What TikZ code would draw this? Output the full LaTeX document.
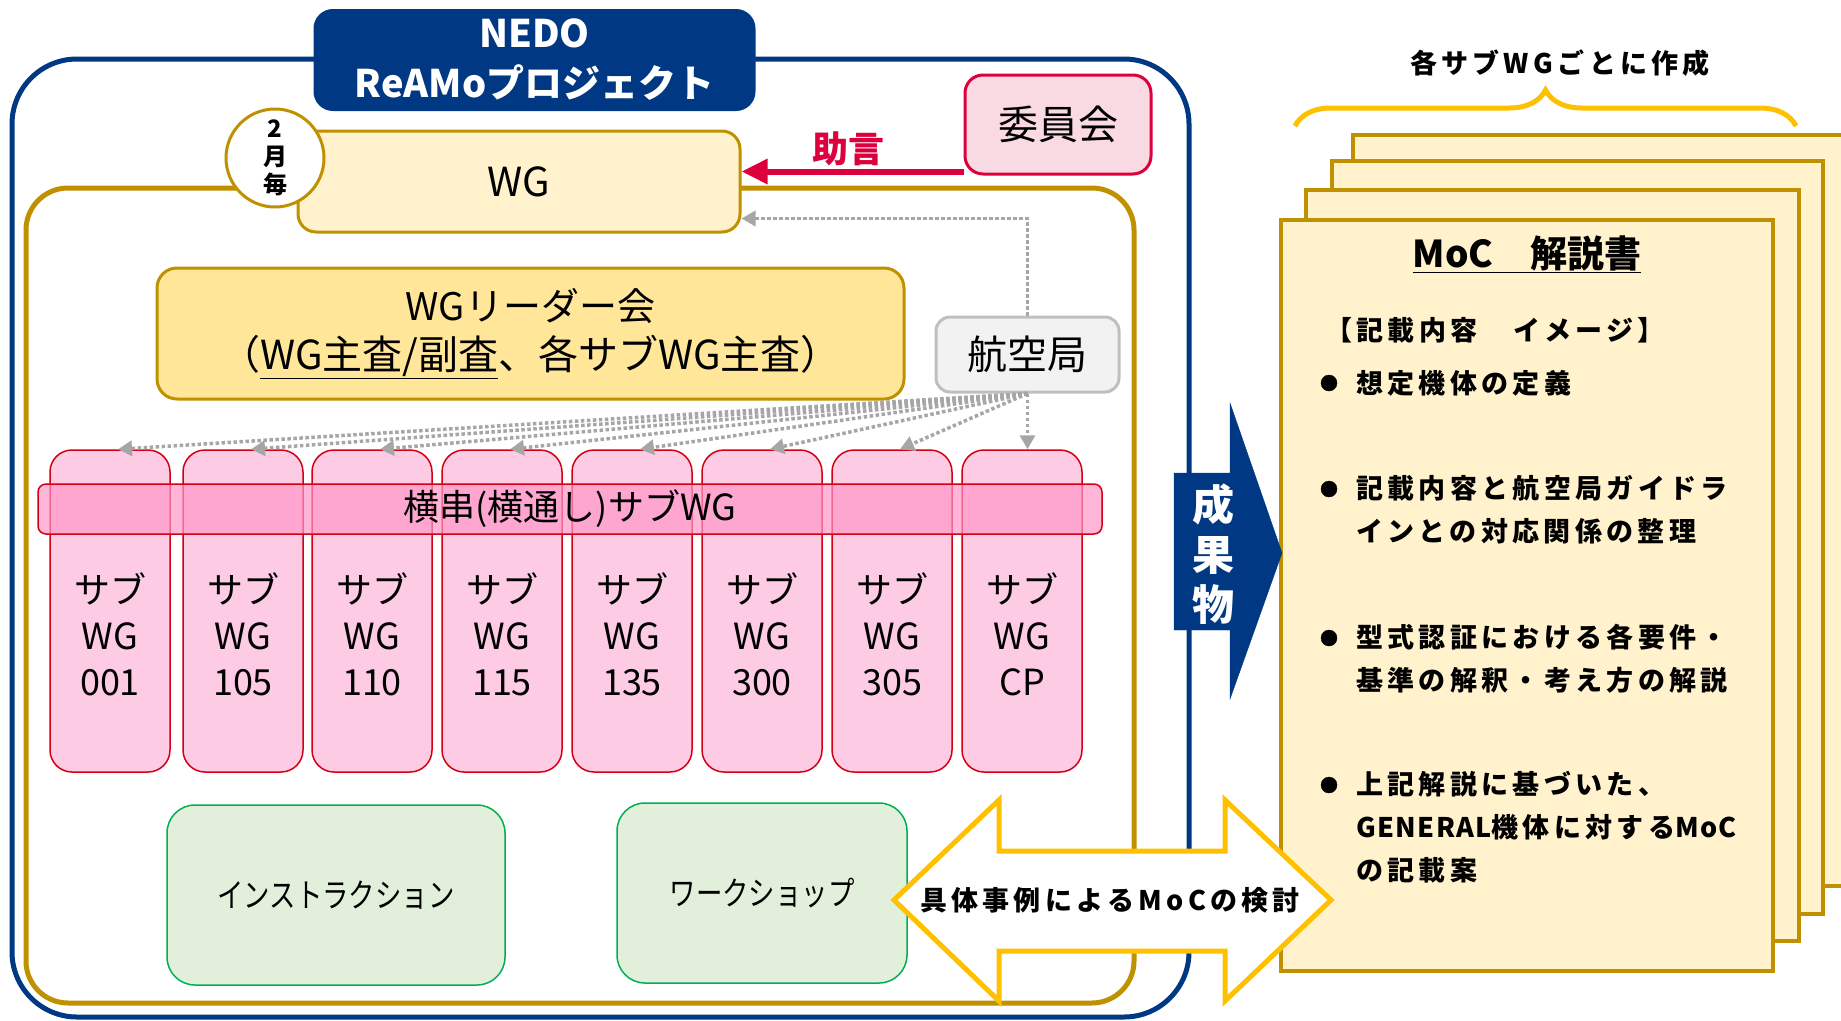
\documentclass[tikz,border=0pt]{standalone}
\usepackage{fontspec}
\setmainfont{Noto Sans CJK JP}
\newfontfamily\spacedfont[LetterSpace=16]{Noto Sans CJK JP}
\newfontfamily\latinspaced[LetterSpace=5]{Noto Sans CJK JP}
\newfontfamily\narrowfont[FakeStretch=0.8]{Noto Sans CJK JP}
\usepackage{tikz}
\usetikzlibrary{arrows.meta,decorations.pathreplacing}

\definecolor{navy}{RGB}{0,56,131}
\definecolor{gold}{RGB}{191,144,0}
\definecolor{wgfill}{RGB}{255,242,204}
\definecolor{leadfill}{RGB}{255,230,153}
\definecolor{subfill}{RGB}{253,204,228}
\definecolor{subline}{RGB}{210,0,20}
\definecolor{bandfill}{RGB}{255,150,200}
\definecolor{greenfill}{RGB}{226,239,218}
\definecolor{greenline}{RGB}{0,176,80}
\definecolor{amber}{RGB}{255,192,0}
\definecolor{iinfill}{RGB}{250,218,226}
\definecolor{crimson}{RGB}{220,0,60}
\definecolor{kkfill}{RGB}{242,242,242}
\definecolor{kkline}{RGB}{191,191,191}
\definecolor{dotgray}{RGB}{166,166,166}

\tikzset{
 box/.style={draw, rounded corners=18pt, line width=3pt, inner sep=0pt, align=center},
 subbox/.style={box, fill=subfill, draw=subline, line width=1.5pt, rounded corners=22pt, minimum width=120, minimum height=322},
 subtext/.style={align=center, font=\fontsize{36}{46}\selectfont},
 greenbox/.style={box, fill=greenfill, draw=greenline, line width=1.5pt, rounded corners=28pt, minimum height=180, font=\narrowfont\fontsize{33}{40}\selectfont},
 kkarrow/.style={draw=dotgray, line width=3.5pt, dash pattern=on 3.5pt off 2.5pt, -{Triangle[length=14pt,width=15pt]}},
 doctext/.style={align=left, inner sep=0pt, font=\spacedfont\bfseries\fontsize{27}{43}\selectfont},
 page/.style={fill=wgfill, draw=gold, line width=4pt}
}

\begin{document}
\begin{tikzpicture}[x=1pt,y=-1pt]
\path[use as bounding box] (0,0) rectangle (1841,1020);
\draw[navy, line width=5pt, rounded corners=65pt] (12,59) rectangle (1189,1017);
\draw[gold, line width=5pt, rounded corners=42pt] (26,188) rectangle (1134,1003);

\node[box, fill=navy, draw=navy, text=white, font=\bfseries\fontsize{38}{50}\selectfont, minimum width=439, minimum height=99] (nedo) at (534.5,60) {NEDO\\ReAMoプロジェクト};

\node[box, fill=wgfill, draw=gold, font=\fontsize{40}{48}\selectfont, minimum width=442, minimum height=101] (wg) at (519,181.5) {WG};
\node[circle, fill=white, draw=gold, line width=3pt, minimum size=98, inner sep=0pt, align=center, font=\bfseries\fontsize{24}{28}\selectfont] (freq) at (275,158) {2\\月\\毎};

\node[box, fill=iinfill, draw=crimson, font=\fontsize{40}{48}\selectfont, minimum width=186, minimum height=99] (iin) at (1058,124.5) {委員会};
\node[text=crimson, font=\bfseries\fontsize{36}{40}\selectfont] (jogen) at (848,149) {助言};
\draw[crimson, line width=6pt, -{Triangle[length=26pt,width=24pt]}] ([yshift=4pt]iin.south west) -- ([yshift=4pt]iin.south west -| wg.east);

\node[box, fill=leadfill, draw=gold, rounded corners=20pt, font=\fontsize{38}{49}\selectfont, minimum width=747, minimum height=131] (leader) at (530.5,333.5) {WGリーダー会\\{\fontsize{40}{49}\selectfont （\underline{WG主査/副査}、各サブWG主査）}};

\node[box, fill=kkfill, draw=kkline, rounded corners=14pt, font=\fontsize{40}{48}\selectfont, minimum width=183, minimum height=75] (kk) at (1027.5,354.5) {航空局};
\draw[kkarrow] (kk.north) |- ([yshift=-37pt]wg.east);

\foreach \x/\n [count=\i] in {110/001,243/105,372/110,502/115,632/135,762/300,892/305,1022/CP}{
 \node[subbox] (sub\i) at (\x,611) {};
 \node[subtext] (subt\i) at (\x,634) {サブ\\WG\\\n};
}
\foreach \i in {1,...,7}
 \draw[kkarrow] (kk.south) -- ([xshift=8pt]sub\i.north);
\draw[kkarrow] (kk.south) -- (kk.south |- sub8.north);

\node[box, fill=bandfill, fill opacity=0.7, text opacity=1, draw=subline, line width=1.5pt, rounded corners=8pt, minimum width=1064, minimum height=50, font=\fontsize{36}{40}\selectfont] (band) at (570,509) {横串(横通し)サブWG};

\node[greenbox, minimum width=338] (inst) at (336,895) {インストラクション};
\node[greenbox, minimum width=290] (ws) at (762,893) {ワークショップ};

\filldraw[page] (1353,135) rectangle (1870,886);
\filldraw[page] (1332,161) rectangle (1823,914);
\filldraw[page] (1306,190) rectangle (1799,941);
\filldraw[page] (1281,220) rectangle (1773,971);
\coordinate (doc) at (1281,220);

\draw[amber, line width=5pt, decorate, decoration={brace, amplitude=36pt}] (1295,126) -- (1796,126);
\node[font=\spacedfont\bfseries\fontsize{27}{32}\selectfont] (sakusei) at (1560,63) {各サブWGごとに作成};

\filldraw[fill=navy, draw=navy] (1174,473) -- (1230,473) -- (1230,403) -- (1282,553) -- (1230,699) -- (1230,630) -- (1174,630) -- cycle;
\node[text=white, align=center, font=\bfseries\fontsize{42}{50}\selectfont] (seika) at (1213,554) {成\\果\\物};

\filldraw[fill=white, draw=amber, line width=5pt, line join=miter] (894,900) -- (999,800) -- (999,851) -- (1225,851) -- (1225,800) -- (1331,900) -- (1225,1001) -- (1225,951) -- (999,951) -- (999,1001) -- cycle;
\node[font=\spacedfont\bfseries\fontsize{27}{32}\selectfont] (kento) at (1110,900) {具体事例によるMoCの検討};

\node[font=\bfseries\fontsize{37}{44}\selectfont] (moc) at (1527,254) {\underline{MoC　解説書}};
\node[doctext, anchor=west] (kisai) at (1325,330) {【記載内容　イメージ】};
\node[doctext, anchor=west] (b1) at (1356,383) {想定機体の定義};
\node[doctext, anchor=west] (b2) at (1356,510) {記載内容と航空局ガイドラ\\インとの対応関係の整理};
\node[doctext, anchor=west] (b3) at (1356,659) {型式認証における各要件・\\基準の解釈・考え方の解説};
\node[doctext, anchor=west] (b4) at (1356,827) {上記解説に基づいた、\\{\latinspaced\bfseries GENERAL}機体に対する{\latinspaced\bfseries MoC}\\の記載案};
\foreach \y in {383,489,638,785}
 \filldraw[fill=black, draw=black] (1329,\y) circle [radius=8];
\end{tikzpicture}
\end{document}
